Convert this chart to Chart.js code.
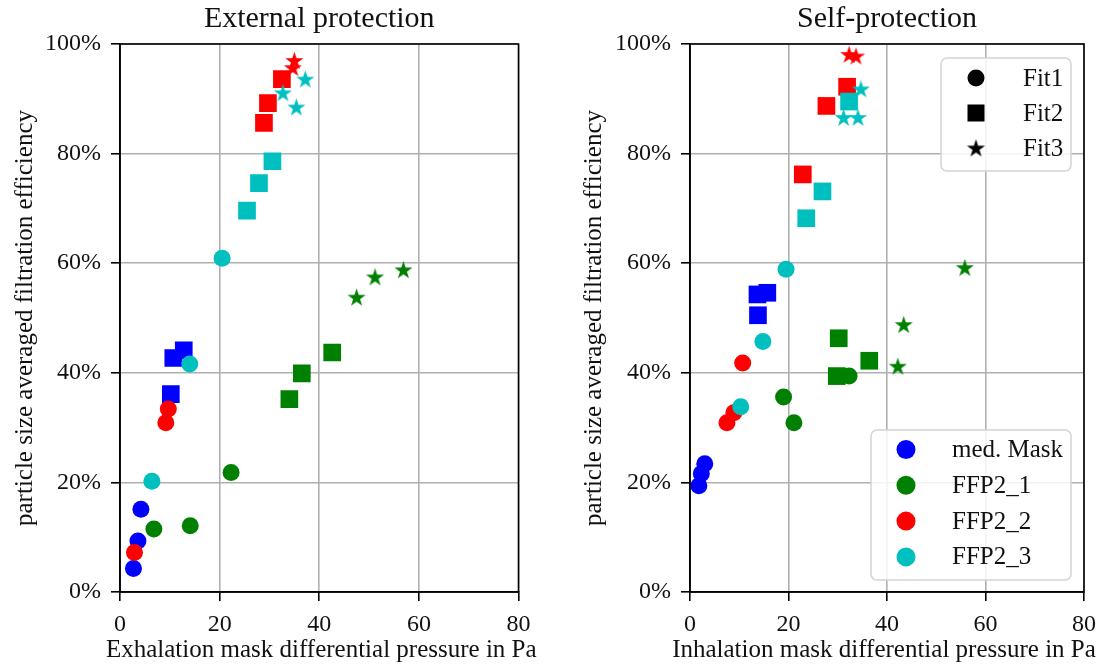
<!DOCTYPE html>
<html>
<head>
<meta charset="utf-8">
<script src="https://cdn.jsdelivr.net/npm/chart.js@4.4.1/dist/chart.umd.min.js"></script>
<style>
  body { margin: 0; background: #fff; }
  #wrap { position: relative; width: 1105px; height: 666px; }
  #extChart { position: absolute; left: 0; top: 0; }
  #selfChart { position: absolute; left: 552px; top: 0; }
</style>
</head>
<body>
<div id="wrap">
  <canvas id="extChart" width="552" height="666"></canvas>
  <canvas id="selfChart" width="553" height="666"></canvas>
</div>
<script>
const maskNames = ['med. Mask', 'FFP2_1', 'FFP2_2', 'FFP2_3'];
const maskColors = ['#0000ff', '#008000', '#ff0000', '#00bfbf'];
const fitNames = ['Fit1', 'Fit2', 'Fit3'];
const xTicks = [0, 20, 40, 60, 80];
const yTicks = [0, 20, 40, 60, 80, 100];

// External protection: [exhalation pressure in Pa, efficiency in %]
const extMedMaskFit1 = [[2.7, 4.3], [3.6, 9.3], [4.2, 15.1]];
const extMedMaskFit2 = [[10.2, 36.1], [10.7, 42.7], [12.8, 44.1]];
const extMedMaskFit3 = [];
const extFfp21Fit1 = [[6.8, 11.5], [14.1, 12.1], [22.3, 21.8]];
const extFfp21Fit2 = [[34.0, 35.2], [36.5, 39.9], [42.6, 43.7]];
const extFfp21Fit3 = [[47.5, 53.8], [51.2, 57.5], [56.9, 58.8]];
const extFfp22Fit1 = [[2.9, 7.2], [9.2, 30.9], [9.7, 33.4]];
const extFfp22Fit2 = [[28.9, 85.6], [29.7, 89.2], [32.5, 93.6]];
const extFfp22Fit3 = [[34.7, 95.7], [35.0, 97.0]];
const extFfp23Fit1 = [[6.4, 20.2], [14.0, 41.6], [20.5, 60.9]];
const extFfp23Fit2 = [[25.5, 69.6], [27.9, 74.6], [30.6, 78.6]];
const extFfp23Fit3 = [[32.7, 91.1], [35.4, 88.5], [37.2, 93.6]];

// Self-protection: [inhalation pressure in Pa, efficiency in %]
const selfMedMaskFit1 = [[1.8, 19.4], [2.3, 21.6], [3.0, 23.4]];
const selfMedMaskFit2 = [[13.7, 54.3], [13.8, 50.5], [15.7, 54.6]];
const selfMedMaskFit3 = [];
const selfFfp21Fit1 = [[19.0, 35.6], [21.1, 30.9], [32.3, 39.4]];
const selfFfp21Fit2 = [[29.8, 39.4], [30.2, 46.3], [36.4, 42.2]];
const selfFfp21Fit3 = [[42.2, 41.2], [43.4, 48.8], [55.8, 59.2]];
const selfFfp22Fit1 = [[7.5, 30.9], [8.9, 32.7], [10.7, 41.8]];
const selfFfp22Fit2 = [[22.9, 76.2], [27.7, 88.7], [31.9, 92.2]];
const selfFfp22Fit3 = [[32.3, 98.1], [33.7, 97.8]];
const selfFfp23Fit1 = [[10.3, 33.8], [14.8, 45.7], [19.5, 58.9]];
const selfFfp23Fit2 = [[23.6, 68.2], [26.9, 73.1], [32.3, 89.5]];
const selfFfp23Fit3 = [[31.2, 86.6], [34.1, 86.6], [34.7, 91.8]];

const extGroups = [
  [extMedMaskFit1, extMedMaskFit2, extMedMaskFit3],
  [extFfp21Fit1, extFfp21Fit2, extFfp21Fit3],
  [extFfp22Fit1, extFfp22Fit2, extFfp22Fit3],
  [extFfp23Fit1, extFfp23Fit2, extFfp23Fit3]
];
const selfGroups = [
  [selfMedMaskFit1, selfMedMaskFit2, selfMedMaskFit3],
  [selfFfp21Fit1, selfFfp21Fit2, selfFfp21Fit3],
  [selfFfp22Fit1, selfFfp22Fit2, selfFfp22Fit3],
  [selfFfp23Fit1, selfFfp23Fit2, selfFfp23Fit3]
];

const FONT = "'Liberation Serif', 'DejaVu Serif', serif";
const TEXT = '#111';
Chart.defaults.font.family = FONT;
Chart.defaults.color = TEXT;

// 5 point filled star, used as an image point style
function starImage(color, r) {
  const c = document.createElement('canvas');
  const s = Math.ceil(r * 2 + 2);
  c.width = s;
  c.height = s;
  const g = c.getContext('2d');
  g.fillStyle = color;
  g.beginPath();
  for (let i = 0; i < 10; i++) {
    const rad = i % 2 ? r * 0.382 : r;
    const a = -Math.PI / 2 + i * Math.PI / 5;
    g.lineTo(s / 2 + rad * Math.cos(a), s / 2 + rad * Math.sin(a) + 0.8);
  }
  g.closePath();
  g.fill();
  return c;
}

function buildDatasets(groups) {
  const sets = [];
  groups.forEach((fits, m) => {
    fits.forEach((pts, f) => {
      sets.push({
        label: maskNames[m] + ' ' + fitNames[f],
        data: pts.map(p => ({ x: p[0], y: p[1] })),
        backgroundColor: maskColors[m],
        borderColor: maskColors[m],
        borderWidth: 0,
        pointStyle: f === 2 ? starImage(maskColors[m], 9.5) : (f === 0 ? 'circle' : 'rect'),
        pointRadius: f === 1 ? 12.5 : 8.5,
        showLine: false
      });
    });
  });
  return sets.reverse(); // dataset 0 is painted last
}

// black frame around the plot area (top + right spines)
const framePlugin = {
  id: 'frame',
  afterDraw(chart) {
    const { ctx, chartArea: a } = chart;
    ctx.save();
    ctx.strokeStyle = '#000';
    ctx.lineWidth = 1.6;
    ctx.strokeRect(a.left, a.top, a.right - a.left, a.bottom - a.top);
    ctx.restore();
  }
};

// x axis label, drawn without the scale's maxWidth squeeze
const xLabelPlugin = {
  id: 'xLabel',
  afterDraw(chart, args, opts) {
    const { ctx, chartArea: a } = chart;
    ctx.save();
    ctx.font = '25px ' + FONT;
    ctx.fillStyle = TEXT;
    ctx.textAlign = 'center';
    ctx.textBaseline = 'middle';
    ctx.fillText(opts.text, (a.left + a.right) / 2 + opts.dx, 650);
    ctx.restore();
  }
};

function legendBox(ctx, x, y, w, h) {
  ctx.beginPath();
  ctx.roundRect(x, y, w, h, 6);
  ctx.fillStyle = 'rgba(255,255,255,0.85)';
  ctx.fill();
  ctx.strokeStyle = '#d4d4d4';
  ctx.lineWidth = 1.5;
  ctx.stroke();
}

const blackStar = starImage('#000', 9.5);

// two legends on the right chart: marker shapes and mask colours
const legendPlugin = {
  id: 'twoLegends',
  afterDraw(chart) {
    const { ctx, chartArea: a } = chart;
    ctx.save();
    ctx.font = '25px ' + FONT;
    ctx.textBaseline = 'middle';
    ctx.textAlign = 'left';

    legendBox(ctx, a.right - 143, a.top + 14, 130, 113);
    fitNames.forEach((name, i) => {
      const y = a.top + 34 + i * 35;
      const x = a.right - 108;
      ctx.fillStyle = '#000';
      if (i === 0) {
        ctx.beginPath();
        ctx.arc(x, y, 8.5, 0, Math.PI * 2);
        ctx.fill();
      } else if (i === 1) {
        ctx.fillRect(x - 8.5, y - 8.5, 17, 17);
      } else {
        ctx.drawImage(blackStar, x - blackStar.width / 2, y - blackStar.height / 2);
      }
      ctx.fillStyle = TEXT;
      ctx.fillText(name, a.right - 61, y + 1);
    });

    legendBox(ctx, a.right - 213, a.bottom - 162, 200, 150);
    maskNames.forEach((name, i) => {
      const y = a.bottom - 142.5 + i * 35.8;
      ctx.fillStyle = maskColors[i];
      ctx.beginPath();
      ctx.arc(a.right - 178, y, 9.5, 0, Math.PI * 2);
      ctx.fill();
      ctx.fillStyle = TEXT;
      ctx.fillText(name, a.right - 132, y + 1);
    });
    ctx.restore();
  }
};

function makeChart(id, title, xTitle, xShift, groups, yWidth, yTitlePad, rightPad, extra) {
  const grid = { color: '#b0b0b0', lineWidth: 1.6, tickColor: '#000', tickLength: 9, tickWidth: 1.6 };
  return new Chart(document.getElementById(id), {
    type: 'scatter',
    data: { datasets: buildDatasets(groups) },
    options: {
      responsive: false,
      animation: false,
      events: [],
      layout: { autoPadding: false, padding: { left: 0, right: rightPad, top: 0, bottom: 0 } },
      plugins: {
        legend: { display: false },
        tooltip: { enabled: false },
        xLabel: { text: xTitle, dx: xShift },
        title: {
          display: true,
          text: title,
          fullSize: false,
          color: TEXT,
          font: { size: 30, weight: 'normal' },
          padding: { top: 1, bottom: 7 }
        }
      },
      scales: {
        x: {
          type: 'linear',
          min: xTicks[0],
          max: xTicks[xTicks.length - 1],
          afterBuildTicks: s => { s.ticks = xTicks.map(v => ({ value: v })); },
          ticks: { font: { size: 24 }, color: TEXT, padding: 9, maxRotation: 0 },
          grid: grid,
          border: { color: '#000', width: 1.6 },
          afterFit: s => { s.height = 74; }
        },
        y: {
          type: 'linear',
          min: yTicks[0],
          max: yTicks[yTicks.length - 1],
          afterBuildTicks: s => { s.ticks = yTicks.map(v => ({ value: v })); },
          ticks: { font: { size: 24 }, color: TEXT, padding: 10, callback: v => v + '%' },
          grid: grid,
          border: { color: '#000', width: 1.6 },
          title: {
            display: true,
            text: 'particle size averaged filtration efficiency',
            color: TEXT,
            font: { size: 25 },
            padding: { top: yTitlePad, bottom: 0 }
          },
          afterFit: s => { s.width = yWidth; }
        }
      }
    },
    plugins: [framePlugin, xLabelPlugin].concat(extra)
  });
}

makeChart('extChart', 'External protection', 'Exhalation mask differential pressure in Pa', 2,
  extGroups, 120, 10, 33.5, []);
makeChart('selfChart', 'Self-protection', 'Inhalation mask differential pressure in Pa', -3,
  selfGroups, 138, 27.5, 18, [legendPlugin]);
</script>
</body>
</html>
